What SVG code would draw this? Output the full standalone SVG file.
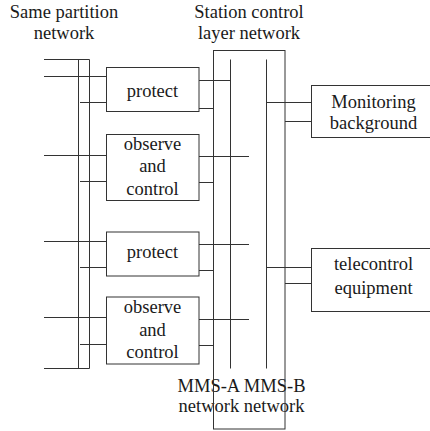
<svg xmlns="http://www.w3.org/2000/svg" width="430" height="431" viewBox="0 0 430 431" font-family="Liberation Serif, DejaVu Serif, serif">
<style>
text{font-size:18.5px;fill:#1a1a1a;text-anchor:middle}
.b{fill:#fff;stroke:#333;stroke-width:1}
.c line{stroke:#333;stroke-width:1}
.n{fill:none;stroke:#333;stroke-width:1}
</style>
<rect width="430" height="431" fill="#fff"/>
<g id="labels">
<text x="64" y="18">Same partition</text>
<text x="64" y="39">network</text>
<text x="249" y="18">Station control</text>
<text x="249" y="39">layer network</text>
<text x="241.5" y="392">MMS-A MMS-B</text>
<text x="241.5" y="412">network network</text>
</g>
<g id="station-network">
<rect class="n" x="213.5" y="50.5" width="71.5" height="378.5"/>
</g>
<g class="c" id="connectors">
<line x1="78.5" y1="59.5" x2="78.5" y2="368.5"/>
<line x1="89.5" y1="59.5" x2="89.5" y2="368.5"/>
<line x1="44" y1="59.5" x2="89.5" y2="59.5"/>
<line x1="44" y1="368.5" x2="89.5" y2="368.5"/>
<line x1="44" y1="76.5" x2="106" y2="76.5"/>
<line x1="80" y1="102.5" x2="106" y2="102.5"/>
<line x1="44" y1="155.5" x2="106" y2="155.5"/>
<line x1="80" y1="181.5" x2="106" y2="181.5"/>
<line x1="44" y1="241.5" x2="106" y2="241.5"/>
<line x1="80" y1="267.5" x2="106" y2="267.5"/>
<line x1="44" y1="317.5" x2="106" y2="317.5"/>
<line x1="80" y1="344.5" x2="106" y2="344.5"/>
<line x1="230.5" y1="59.5" x2="230.5" y2="368.5"/>
<line x1="266.5" y1="59.5" x2="266.5" y2="368.5"/>
<line x1="199" y1="80.5" x2="230.5" y2="80.5"/>
<line x1="199" y1="108.5" x2="213.5" y2="108.5"/>
<line x1="199" y1="156.5" x2="249" y2="156.5"/>
<line x1="199" y1="182.5" x2="213.5" y2="182.5"/>
<line x1="199" y1="244.5" x2="249" y2="244.5"/>
<line x1="199" y1="270.5" x2="213.5" y2="270.5"/>
<line x1="199" y1="319.5" x2="249" y2="319.5"/>
<line x1="199" y1="345.5" x2="213.5" y2="345.5"/>
<line x1="266.5" y1="102.5" x2="311" y2="102.5"/>
<line x1="285" y1="121.5" x2="311" y2="121.5"/>
<line x1="266.5" y1="267.5" x2="311" y2="267.5"/>
<line x1="285" y1="283.5" x2="311" y2="283.5"/>
</g>
<g id="protect1">
<rect class="b" x="106.5" y="67.5" width="92.5" height="44"/>
<text x="152.5" y="97">protect</text>
</g>
<g id="observe1">
<rect class="b" x="106.5" y="134.5" width="92.5" height="66"/>
<text x="152.5" y="149.5">observe</text>
<text x="152.5" y="172">and</text>
<text x="152.5" y="194.5">control</text>
</g>
<g id="protect2">
<rect class="b" x="106.5" y="232" width="92.5" height="44"/>
<text x="152.5" y="258">protect</text>
</g>
<g id="observe2">
<rect class="b" x="106.5" y="297" width="92.5" height="67"/>
<text x="152.5" y="313">observe</text>
<text x="152.5" y="336">and</text>
<text x="152.5" y="357.5">control</text>
</g>
<g id="monitoring">
<rect class="b" x="311.5" y="85.5" width="125" height="52"/>
<text x="373.5" y="108">Monitoring</text>
<text x="373.5" y="129">background</text>
</g>
<g id="telecontrol">
<rect class="b" x="311.5" y="248.5" width="125" height="63"/>
<text x="373.5" y="270">telecontrol</text>
<text x="373.5" y="294">equipment</text>
</g>
</svg>
